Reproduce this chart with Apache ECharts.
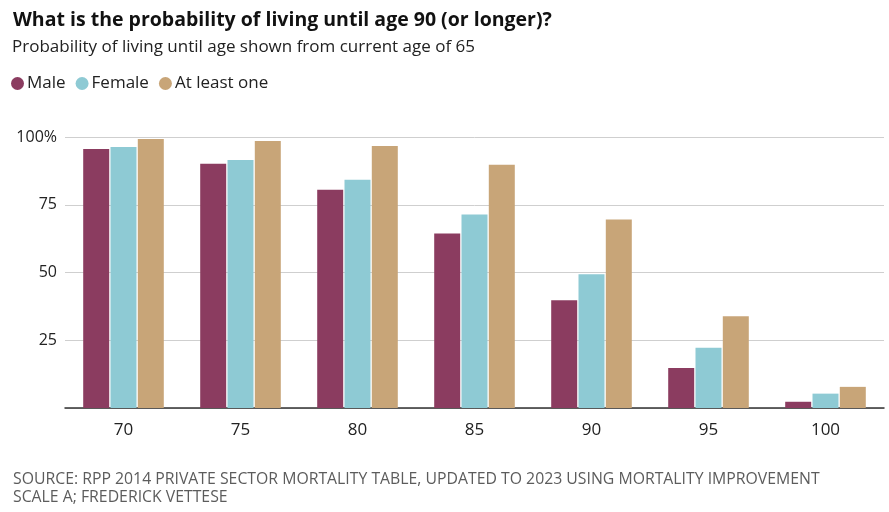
<!DOCTYPE html>
<html>
<head>
<meta charset="utf-8">
<script src="https://cdn.jsdelivr.net/npm/echarts@6/dist/echarts.min.js"></script>
<style>
    html, body { margin: 0; padding: 0; background: #fff; }
    #chart { width: 889px; height: 512px; }
</style>
</head>
<body>
<div id="chart"></div>
<script>
    // categories (age reached)
    var ages = ['70', '75', '80', '85', '90', '95', '100'];
    // probability of living to age, from 65 (%)
    var male = [95.6, 90.1, 80.5, 64.4, 39.8, 14.8, 2.3];
    var female = [96.3, 91.5, 84.2, 71.4, 49.4, 22.2, 5.3];
    var atLeastOne = [99.3, 98.5, 96.7, 89.8, 69.6, 33.9, 7.8];
    var yTicks = [0, 25, 50, 75, 100];

    var chart = echarts.init(document.getElementById('chart'));
    var font = '"Open Sans", "Noto Sans", sans-serif';

    var option = {
        animation: false,
        title: [{
            text: 'What is the probability of living until age 90 (or longer)?',
            left: 8, top: 5,
            textStyle: { fontSize: 19.5, fontWeight: 'bold', color: '#111', fontFamily: font }
        }, {
            text: 'Probability of living until age shown from current age of 65',
            left: 7, top: 34,
            textStyle: { fontSize: 17, fontWeight: 'normal', color: '#222', fontFamily: font }
        }, {
            text: 'SOURCE: RPP 2014 PRIVATE SECTOR MORTALITY TABLE, UPDATED TO 2023 USING MORTALITY IMPROVEMENT\nSCALE A; FREDERICK VETTESE',
            left: 8, top: 465,
            textStyle: {
                fontSize: 15.8, fontWeight: 'normal', color: '#5c5c5c', lineHeight: 18,
                fontFamily: font
            }
        }],
        legend: {
            left: 6, top: 70,
            icon: 'circle',
            itemWidth: 13, itemHeight: 13, itemGap: 10,
            textStyle: { fontSize: 17, color: '#222', fontFamily: font, padding: [0, 0, 0, -2] },
            data: ['Male', 'Female', 'At least one']
        },
        grid: { left: 65, right: 5, top: 137, bottom: 104 },
        xAxis: {
            type: 'category',
            data: ages,
            axisLine: { lineStyle: { color: '#333', width: 1.5 } },
            axisTick: { alignWithLabel: true, length: 6, lineStyle: { color: '#333' } },
            axisLabel: { fontSize: 17, color: '#222', margin: 14, fontFamily: font }
        },
        yAxis: {
            type: 'value',
            min: yTicks[0], max: yTicks[yTicks.length - 1], interval: 25,
            axisLine: { show: false },
            axisTick: { show: false },
            splitLine: { lineStyle: { color: '#cfcfcf' } },
            axisLabel: {
                fontSize: 16, color: '#222', margin: 8, fontFamily: font,
                formatter: function (v) {
                    if (v === 0) return '';
                    return v === 100 ? v + '%' : String(v);
                }
            }
        },
        series: [{
            name: 'Male', type: 'bar', data: male,
            barWidth: 26, barGap: '5%',
            itemStyle: { color: '#8b3c60' }
        }, {
            name: 'Female', type: 'bar', data: female,
            barWidth: 26, barGap: '5%',
            itemStyle: { color: '#8ecad4' }
        }, {
            name: 'At least one', type: 'bar', data: atLeastOne,
            barWidth: 26, barGap: '5%',
            itemStyle: { color: '#c8a578' }
        }]
    };
    chart.setOption(option);
</script>
</body>
</html>
